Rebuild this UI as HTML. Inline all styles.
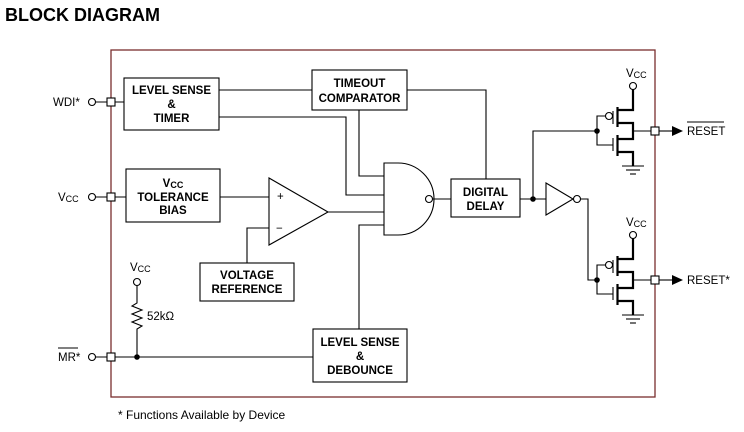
<!DOCTYPE html>
<html><head><meta charset="utf-8"><style>
html,body{margin:0;padding:0;background:#fff;}
svg{display:block;}
text{font-family:"Liberation Sans",Arial,sans-serif;fill:#000;}
.b{font-weight:bold;font-size:11.5px;}
.n{font-size:11.5px;}
</style></head><body>
<svg width="744" height="432" viewBox="0 0 744 432" xmlns="http://www.w3.org/2000/svg">
<text x="5" y="21" style="font-weight:bold;font-size:18px">BLOCK DIAGRAM</text>
<rect x="111" y="50" width="544" height="347" fill="none" stroke="#7a2e2e" stroke-width="1.3"/>
<g fill="none" stroke="#000" stroke-width="1.1">
<circle cx="92" cy="102" r="3.5"/><line x1="95.5" y1="102" x2="124" y2="102"/>
<circle cx="92" cy="197" r="3.5"/><line x1="95.5" y1="197" x2="126" y2="197"/>
<circle cx="92" cy="357" r="3.5"/><line x1="95.5" y1="357" x2="313" y2="357"/>
<rect x="107" y="98" width="8" height="8" fill="#fff"/>
<rect x="107" y="193" width="8" height="8" fill="#fff"/>
<rect x="107" y="353" width="8" height="8" fill="#fff"/>
<rect x="124" y="78" width="95" height="52"/>
<rect x="126" y="169" width="94" height="53"/>
<rect x="200" y="263" width="94" height="38"/>
<rect x="312" y="70" width="95" height="40"/>
<rect x="451" y="179" width="69" height="38"/>
<rect x="313" y="329" width="94" height="53"/>
<polygon points="269,178 269,245 328,212"/>
<line x1="220" y1="197" x2="269" y2="197"/>
<polyline points="247,263 247,228 269,228"/>
<line x1="328" y1="212" x2="384" y2="212"/>
<line x1="219" y1="90" x2="312" y2="90"/>
<polyline points="219,117 346,117 346,195 384,195"/>
<polyline points="359,110 359,176 384,176"/>
<polyline points="407,90 486,90 486,179"/>
<polyline points="359,329 359,225 384,225"/>
<path d="M384,163 L398,163 A36,36 0 0 1 398,235 L384,235 Z"/>
<circle cx="429" cy="199" r="3.5"/>
<line x1="432.5" y1="199" x2="451" y2="199"/>
<line x1="520" y1="199" x2="546" y2="199"/>
<polyline points="533,199 533,131 597,131"/>
<polygon points="546,183 546,215 573,199"/>
<circle cx="577" cy="199" r="3.5"/>
<polyline points="580.5,199 588,199 588,280 597,280"/>
<circle cx="137" cy="282" r="3.5"/>
<polyline points="137,285.5 137,303 132,306 142,310 132,314 142,318 132,322 142,326 137,329 137,357"/>
</g>
<circle cx="137" cy="357" r="2.8" fill="#000"/>
<circle cx="533" cy="199" r="2.8" fill="#000"/>
<g id="stage">
<g fill="none" stroke="#000" stroke-width="1.1">
<polyline points="597,131 597,116 605.5,116"/>
<circle cx="609" cy="116" r="3.5"/>
<line x1="613" y1="111" x2="613" y2="124"/>
<polyline points="597,131 597,145 613,145"/>
<line x1="613" y1="138" x2="613" y2="151"/>
<circle cx="633" cy="86" r="3.5"/>
<line x1="633" y1="131" x2="651" y2="131"/>
<line x1="659" y1="131" x2="672" y2="131"/>
<rect x="651" y="127" width="8" height="8" fill="#fff"/>
<line x1="622" y1="166" x2="644" y2="166"/>
<line x1="626" y1="170" x2="640" y2="170"/>
<line x1="630" y1="174" x2="636" y2="174"/>
</g>
<g fill="none" stroke="#000" stroke-width="2.2">
<line x1="617.5" y1="107" x2="617.5" y2="127"/>
<polyline points="617.5,110 633,110 633,89.5"/>
<polyline points="617.5,123 633,123 633,139 617.5,139"/>
<line x1="617.5" y1="135" x2="617.5" y2="156"/>
<polyline points="617.5,152 633,152 633,166"/>
</g>
<circle cx="597" cy="131" r="2.8" fill="#000"/>
<polygon points="672,126 683,131 672,136" fill="#000"/>
<text x="626" y="77" class="n">V<tspan font-size="9" dy="1">CC</tspan></text>
</g>
<use href="#stage" transform="translate(0,149)"/>
<text x="687" y="135" class="n">RESET</text>
<line x1="687" y1="122" x2="724" y2="122" stroke="#000" stroke-width="1"/>
<text x="687" y="284" class="n">RESET*</text>
<text x="53" y="106" class="n">WDI*</text>
<text x="58" y="201" class="n">V<tspan font-size="9" dy="1">CC</tspan></text>
<text x="58" y="361" class="n">MR*</text>
<line x1="58" y1="348" x2="78" y2="348" stroke="#000" stroke-width="1"/>
<text x="130" y="271" class="n">V<tspan font-size="9" dy="1">CC</tspan></text>
<text x="147" y="320" class="n">52kΩ</text>
<text x="171.5" y="94" class="b" text-anchor="middle">LEVEL SENSE</text>
<text x="171.5" y="108" class="b" text-anchor="middle">&amp;</text>
<text x="171.5" y="122" class="b" text-anchor="middle">TIMER</text>
<text x="173" y="187" class="b" text-anchor="middle">V<tspan font-size="9" dy="1">CC</tspan></text>
<text x="173" y="201" class="b" text-anchor="middle">TOLERANCE</text>
<text x="173" y="214" class="b" text-anchor="middle">BIAS</text>
<text x="277" y="200" class="n">+</text>
<text x="276" y="232" class="n">−</text>
<text x="247" y="279" class="b" text-anchor="middle">VOLTAGE</text>
<text x="247" y="293" class="b" text-anchor="middle">REFERENCE</text>
<text x="359.5" y="87" class="b" text-anchor="middle">TIMEOUT</text>
<text x="359.5" y="102" class="b" text-anchor="middle">COMPARATOR</text>
<text x="485.5" y="196" class="b" text-anchor="middle">DIGITAL</text>
<text x="485.5" y="210" class="b" text-anchor="middle">DELAY</text>
<text x="360" y="346" class="b" text-anchor="middle">LEVEL SENSE</text>
<text x="360" y="360" class="b" text-anchor="middle">&amp;</text>
<text x="360" y="374" class="b" text-anchor="middle">DEBOUNCE</text>
<text x="118" y="419" style="font-size:12px">* Functions Available by Device</text>
</svg>
</body></html>
